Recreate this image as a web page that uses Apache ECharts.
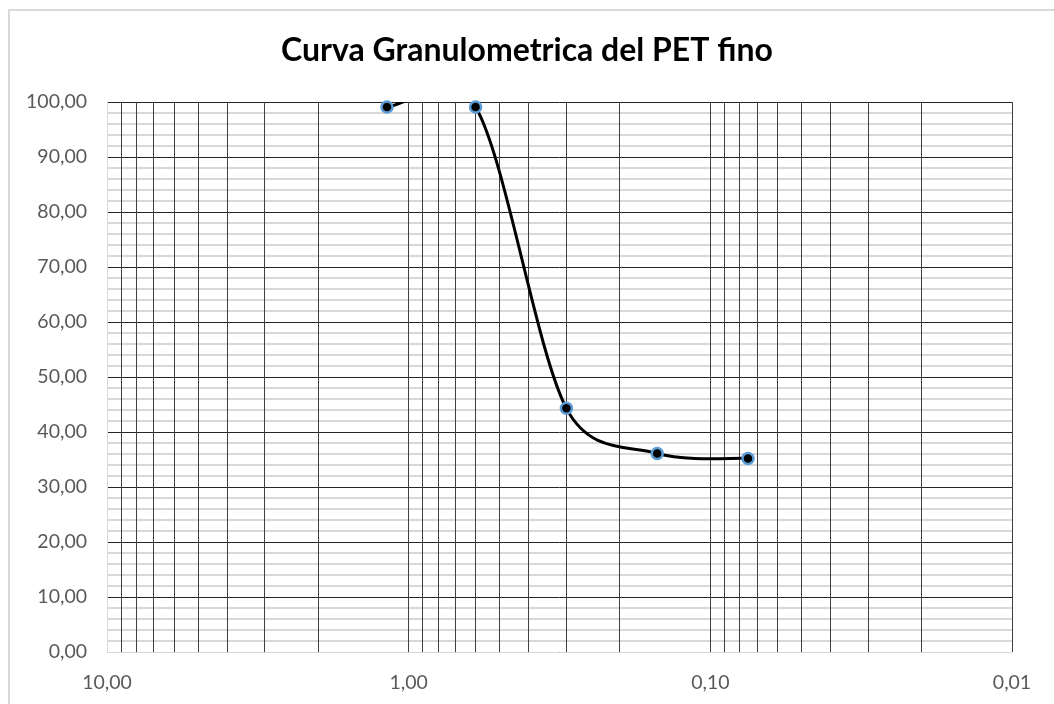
<!DOCTYPE html>
<html>
<head>
<meta charset="utf-8">
<script src="https://cdn.jsdelivr.net/npm/echarts@6/dist/echarts.min.js"></script>
<style>
  html, body { margin: 0; padding: 0; background: #ffffff; }
  #chart { width: 1054px; height: 704px; }
</style>
</head>
<body>
<div id="chart"></div>
<script>
// Sieve openings (mm) and cumulative percent passing
const diametros = [1.18, 0.6, 0.3, 0.15, 0.075];
const pasante = [99.1, 99.1, 44.3, 36.1, 35.2];

// Axis ticks
const xTicks = [10, 1, 0.1, 0.01];
const yMin = 0, yMax = 100, yStep = 10;

// Log-paper vertical rulings: each decade line plus its 2..9 subdivisions
const decades = [1, 0.1, 0.01];
const subdivisions = [2, 3, 4, 5, 6, 7, 8, 9];
const verticalRulings = [];
decades.forEach(d => {
  verticalRulings.push(d);
  subdivisions.forEach(s => verticalRulings.push(d * s));
});

const fmt = v => Number(v).toFixed(2).replace('.', ',');
const FONT = 'Lato, "Open Sans", sans-serif';
const points = diametros.map((d, i) => [d, pasante[i]]);

// Spreadsheet-style smoothed line: one cubic Bezier per pair of neighbouring
// points. Tangent handles come from the surrounding points (1/6 tension) and
// are limited to half of the segment length.
function handle(from, prev, next, segLen, sign) {
  let hx = (next[0] - prev[0]) / 6;
  let hy = (next[1] - prev[1]) / 6;
  const len = Math.hypot(hx, hy);
  if (len > segLen / 2 && len > 0) {
    const k = (segLen / 2) / len;
    hx *= k; hy *= k;
  }
  return [from[0] + sign * hx, from[1] + sign * hy];
}

function renderCurve(params, api) {
  const n = points.length;
  const i = params.dataIndex;
  if (i >= n - 1) return null;
  const at = k => api.coord(points[Math.max(0, Math.min(n - 1, k))]);
  const p0 = at(i - 1), p1 = at(i), p2 = at(i + 1), p3 = at(i + 2);
  const seg = Math.hypot(p2[0] - p1[0], p2[1] - p1[1]);
  const c1 = handle(p1, p0, p2, seg, 1);
  const c2 = handle(p2, p1, p3, seg, -1);
  return {
    type: 'bezierCurve',
    shape: {
      x1: p1[0], y1: p1[1],
      x2: p2[0], y2: p2[1],
      cpx1: c1[0], cpy1: c1[1],
      cpx2: c2[0], cpy2: c2[1]
    },
    style: { stroke: '#000000', lineWidth: 3, fill: null, lineCap: 'round' }
  };
}

const chart = echarts.init(document.getElementById('chart'), null, { renderer: 'canvas' });

chart.setOption({
  animation: false,
  backgroundColor: '#ffffff',
  title: {
    text: 'Curva Granulometrica del PET fino',
    left: 'center',
    top: 35,
    padding: 0,
    textStyle: { fontFamily: FONT, fontWeight: 'bold', fontSize: 32, color: '#000000' }
  },
  graphic: [{
    type: 'rect',
    silent: true,
    z: -10,
    shape: { x: 9, y: 10, width: 1060, height: 710 },
    style: { fill: 'none', stroke: '#d9d9d9', lineWidth: 2 }
  }],
  grid: { left: 107, right: 42, top: 102, bottom: 52 },
  xAxis: {
    type: 'log',
    logBase: 10,
    min: xTicks[xTicks.length - 1],
    max: xTicks[0],
    inverse: true,
    axisLine: { show: true, lineStyle: { color: '#d9d9d9', width: 1 } },
    axisTick: { show: false },
    splitLine: { show: false },
    axisLabel: {
      margin: 21,
      fontFamily: FONT,
      fontSize: 19.5,
      color: '#595959',
      formatter: fmt
    }
  },
  yAxis: {
    type: 'value',
    min: yMin,
    max: yMax,
    interval: yStep,
    axisLine: { show: true, lineStyle: { color: '#d9d9d9', width: 1 } },
    axisTick: { show: false },
    axisLabel: {
      margin: 20,
      fontFamily: FONT,
      fontSize: 19.5,
      color: '#595959',
      formatter: fmt
    },
    splitLine: { show: true, lineStyle: { color: '#262626', width: 1 } },
    minorTick: { show: false, splitNumber: 5 },
    minorSplitLine: { show: true, lineStyle: { color: '#cccccc', width: 1.6 } }
  },
  series: [
    {
      // vertical log-paper rulings
      type: 'line',
      data: [],
      silent: true,
      z: 1,
      markLine: {
        silent: true,
        symbol: ['none', 'none'],
        label: { show: false },
        lineStyle: { type: 'solid', color: '#404040', width: 1 },
        emphasis: { disabled: true },
        data: verticalRulings.map(v => ({ xAxis: v }))
      }
    },
    {
      name: 'Pasante (%)',
      type: 'custom',
      z: 5,
      clip: true,
      silent: true,
      data: points,
      encode: { x: 0, y: 1 },
      renderItem: renderCurve
    },
    {
      name: 'Pasante (%)',
      type: 'scatter',
      z: 6,
      data: points,
      symbol: 'circle',
      symbolSize: 11,
      itemStyle: { color: '#000000', borderColor: '#5b9bd5', borderWidth: 2.5, opacity: 1 }
    }
  ]
});
</script>
</body>
</html>
